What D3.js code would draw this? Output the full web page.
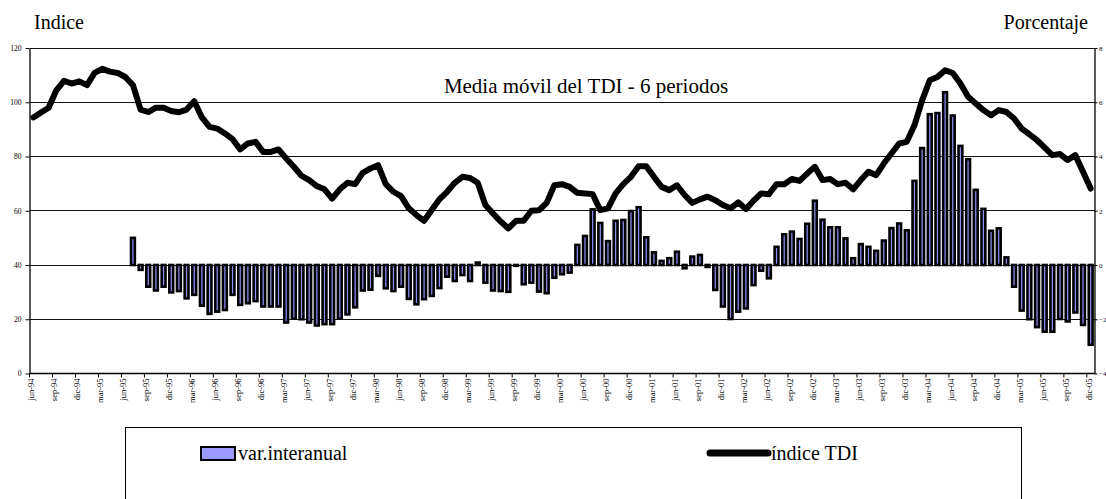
<!DOCTYPE html>
<html>
<head>
<meta charset="utf-8">
<script src="https://cdn.jsdelivr.net/npm/d3@7"></script>
<style>
  body { margin: 0; background: #fff; }
  svg { display: block; }
  text { font-family: "Liberation Serif", "Times New Roman", serif; fill: #000; }
</style>
</head>
<body>
<svg id="chart" width="1106" height="499"></svg>
<script>
// Monthly categories, jun-94 … dic-05
const monthNames = ["ene","feb","mar","abr","may","jun","jul","ago","sep","oct","nov","dic"];
const categories = [];
for (let yr = 1994; yr <= 2005; yr++) {
  for (let m = 0; m < 12; m++) {
    if (yr === 1994 && m < 5) continue;
    categories.push(monthNames[m] + "-" + String(yr).slice(2));
  }
}

// Índice TDI, 6-period moving average (left axis), one row per calendar year
const indiceTDI = [
  94.4, 96.2, 98.0, 104.4, 107.9, 106.9, 107.7,                                   // 1994 jun-dic
  106.3, 110.8, 112.3, 111.3, 110.8, 109.3, 106.3, 97.3, 96.4, 98.0, 98.0, 96.8,  // 1995
  96.3, 97.3, 100.4, 94.4, 90.9, 90.3, 88.5, 86.4, 82.6, 84.8, 85.4, 81.7,        // 1996
  81.7, 82.6, 79.3, 76.2, 72.9, 71.3, 69.1, 67.9, 64.5, 67.9, 70.3, 69.8,         // 1997
  74.0, 75.6, 76.8, 69.8, 67.0, 65.4, 60.9, 58.4, 56.3, 60.3, 64.2, 67.0,         // 1998
  70.3, 72.5, 72.1, 70.3, 62.1, 59.0, 56.0, 53.5, 56.3, 56.3, 60.0, 60.2,         // 1999
  62.9, 69.4, 69.8, 68.8, 66.6, 66.4, 66.1, 60.2, 60.9, 66.4, 69.8, 72.5,         // 2000
  76.4, 76.4, 72.5, 68.8, 67.6, 69.4, 65.8, 62.9, 64.2, 65.2, 63.9, 62.1,         // 2001
  60.9, 63.1, 60.6, 63.7, 66.4, 66.1, 69.8, 69.8, 71.7, 71.0, 73.7, 76.2,         // 2002
  71.3, 71.7, 69.8, 70.3, 67.9, 71.3, 74.4, 73.1, 77.4, 81.1, 84.8, 85.4,         // 2003
  91.5, 100.7, 108.1, 109.3, 111.8, 110.8, 106.9, 102.0, 99.5, 97.1, 95.2, 97.1,  // 2004
  96.4, 94.0, 90.3, 88.2, 86.0, 83.3, 80.5, 80.9, 78.7, 80.5, 74.4, 68.2          // 2005
];

// Year-on-year change, % (right axis)
const varInteranual = [
  null, null, null, null, null, null, null,                                        // 1994 jun-dic
  null, null, null, null, null, null, 1.00, -0.18, -0.80, -0.94, -0.80, -1.01,     // 1995
  -0.96, -1.23, -1.10, -1.50, -1.80, -1.72, -1.66, -1.10, -1.47, -1.41, -1.33, -1.53, // 1996
  -1.53, -1.53, -2.12, -1.98, -2.00, -2.12, -2.23, -2.18, -2.18, -1.98, -1.82, -1.56, // 1997
  -0.94, -0.91, -0.40, -0.86, -0.96, -0.80, -1.25, -1.45, -1.26, -1.14, -0.85, -0.43, // 1998
  -0.59, -0.37, -0.59, 0.09, -0.65, -0.94, -0.96, -0.99, -0.03, -0.71, -0.65, -0.98,  // 1999
  -1.04, -0.47, -0.34, -0.28, 0.74, 1.07, 2.05, 1.55, 0.88, 1.63, 1.66, 1.99,         // 2000
  2.13, 1.02, 0.47, 0.15, 0.25, 0.49, -0.12, 0.31, 0.37, -0.07, -0.92, -1.53,         // 2001
  -1.99, -1.72, -1.60, -0.74, -0.21, -0.49, 0.67, 1.13, 1.23, 0.96, 1.52, 2.37,       // 2002
  1.67, 1.39, 1.39, 0.98, 0.25, 0.77, 0.67, 0.52, 0.90, 1.36, 1.53, 1.28,             // 2003
  3.10, 4.31, 5.56, 5.60, 6.37, 5.51, 4.39, 3.90, 2.77, 2.07, 1.26, 1.35,             // 2004
  0.28, -0.80, -1.68, -2.00, -2.29, -2.46, -2.46, -1.99, -2.08, -1.75, -2.21, -2.94   // 2005
];

const leftTicks = [0, 20, 40, 60, 80, 100, 120];
const rightTicks = [-4, -2, 0, 2, 4, 6, 8];
const labelEvery = 3;

const chartTitle = "Media móvil del TDI - 6 periodos";
const leftTitle = "Indice";
const rightTitle = "Porcentaje";
const legendBars = "var.interanual";
const legendLine = "índice TDI";

const serif = '"Liberation Serif", "Times New Roman", serif';

// ---- layout ----
const plot = { left: 29.5, right: 1094.5, top: 48, bottom: 373.5 };
const svg = d3.select("#chart");

const x = d3.scaleBand().domain(categories).range([plot.left, plot.right]).padding(0);
const step = x.step();
const cx = c => x(c) + step / 2;
const yL = d3.scaleLinear().domain([0, 120]).range([plot.bottom, plot.top]);
const yR = d3.scaleLinear().domain([-4, 8]).range([plot.bottom, plot.top]);

// horizontal gridlines
svg.append("g")
  .selectAll("line")
  .data(leftTicks.filter(v => v > 0))
  .join("line")
  .attr("x1", plot.left).attr("x2", plot.right)
  .attr("y1", d => yL(d)).attr("y2", d => yL(d))
  .attr("stroke", "#111").attr("stroke-width", 1)
  .attr("shape-rendering", "crispEdges");

// columns: year-on-year change
const barData = categories.map((c, i) => ({ c, v: varInteranual[i] })).filter(d => d.v !== null);
const barW = step * 0.5;
svg.append("g")
  .selectAll("rect")
  .data(barData)
  .join("rect")
  .attr("x", d => cx(d.c) - barW / 2)
  .attr("width", barW)
  .attr("y", d => Math.min(yR(d.v), yR(0)))
  .attr("height", d => Math.abs(yR(d.v) - yR(0)))
  .attr("fill", "#8f8ff5")
  .attr("stroke", "#000")
  .attr("stroke-width", 2.6);

// left axis
const axL = svg.append("g")
  .attr("transform", `translate(${plot.left},0)`)
  .call(d3.axisLeft(yL).tickValues(leftTicks).tickSize(4).tickSizeOuter(0).tickPadding(4));
axL.select(".domain").attr("stroke", "#000").attr("stroke-width", 1.3);
axL.selectAll(".tick line").attr("stroke", "#000");
axL.selectAll("text").style("font-family", serif).style("font-size", "7.5px");

// right axis
const axR = svg.append("g")
  .attr("transform", `translate(${plot.right},0)`)
  .call(d3.axisRight(yR).tickValues(rightTicks).tickSize(3).tickSizeOuter(0).tickPadding(1.5));
axR.select(".domain").attr("stroke", "#000").attr("stroke-width", 1.3);
axR.selectAll(".tick line").attr("stroke", "#000");
axR.selectAll("text").style("font-family", serif).style("font-size", "7px");

// bottom category axis: tick marks on category boundaries every 3 months
svg.append("line")
  .attr("x1", plot.left).attr("x2", plot.right)
  .attr("y1", plot.bottom).attr("y2", plot.bottom)
  .attr("stroke", "#000").attr("stroke-width", 1.5);

const tickCats = categories.filter((c, i) => i % labelEvery === 0);
svg.append("g")
  .selectAll("line")
  .data(tickCats)
  .join("line")
  .attr("x1", d => x(d)).attr("x2", d => x(d))
  .attr("y1", plot.bottom).attr("y2", plot.bottom + 4)
  .attr("stroke", "#000").attr("stroke-width", 1);

svg.append("g")
  .selectAll("text")
  .data(tickCats)
  .join("text")
  .attr("transform", d => `translate(${x(d) + 2},${plot.bottom + 5}) rotate(-90)`)
  .attr("text-anchor", "end")
  .attr("dy", "0.33em")
  .style("font-family", serif)
  .style("font-size", "8.5px")
  .text(d => d);

// moving-average line
const line = d3.line()
  .x((d, i) => cx(categories[i]))
  .y(d => yL(d));
svg.append("path")
  .datum(indiceTDI)
  .attr("d", line)
  .attr("fill", "none")
  .attr("stroke", "#000")
  .attr("stroke-width", 6)
  .attr("stroke-linejoin", "round")
  .attr("stroke-linecap", "round");

// titles
svg.append("text").attr("x", 34).attr("y", 29).style("font-family", serif).style("font-size", "20px").text(leftTitle);
svg.append("text").attr("x", 1088).attr("y", 29).attr("text-anchor", "end").style("font-family", serif).style("font-size", "20px").text(rightTitle);
svg.append("text").attr("x", 586).attr("y", 93).attr("text-anchor", "middle").style("font-family", serif).style("font-size", "21px").text(chartTitle);

// legend
const lg = svg.append("g");
lg.append("rect")
  .attr("x", 125.5).attr("y", 427.5).attr("width", 896).attr("height", 100)
  .attr("fill", "#fff").attr("stroke", "#000").attr("stroke-width", 1);
lg.append("rect")
  .attr("x", 201).attr("y", 447).attr("width", 34).attr("height", 13)
  .attr("fill", "#9999ff").attr("stroke", "#000").attr("stroke-width", 2);
lg.append("text").attr("x", 238).attr("y", 460).style("font-family", serif).style("font-size", "20px").text(legendBars);
lg.append("line")
  .attr("x1", 710).attr("x2", 768).attr("y1", 453).attr("y2", 453)
  .attr("stroke", "#000").attr("stroke-width", 7).attr("stroke-linecap", "round");
lg.append("text").attr("x", 771).attr("y", 460).style("font-family", serif).style("font-size", "20px").text(legendLine);
</script>
</body>
</html>
